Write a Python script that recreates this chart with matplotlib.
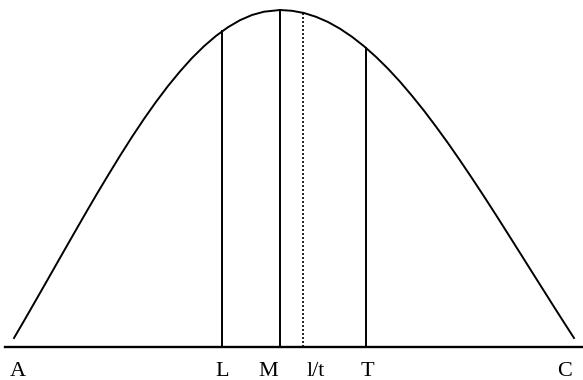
import matplotlib.pyplot as plt

# curve (x across, height above the base line)
curve_x = [14, 24, 36, 48, 60, 72, 84, 96, 108, 120, 132, 144, 156, 168, 180,
           192, 204, 216, 228, 240, 252, 264, 280, 292, 304, 316, 328, 340,
           352, 364, 376, 388, 400, 412, 424, 436, 448, 460, 472, 484, 496,
           508, 520, 532, 544, 556, 566, 574]
curve_h = [9.0, 26.1, 47.0, 68.0, 89.1, 110.1, 131.0, 151.6, 171.6, 191.2,
           210.1, 228.1, 245.1, 261.0, 275.6, 289.0, 300.8, 311.1, 319.8,
           326.8, 332.0, 335.3, 337.0, 336.2, 334.0, 330.2, 325.0, 318.3,
           310.2, 300.8, 290.1, 278.3, 265.3, 251.2, 236.3, 220.4, 203.9,
           186.6, 168.8, 150.6, 132.0, 113.1, 94.1, 75.0, 56.0, 37.0, 21.4, 9.0]

# vertical markers: position, top height, style
mark_x = [222, 280, 303, 366]
mark_top = [315.7, 337, 334.2, 299.1]
mark_style = ['-', '-', ':', '-']

labels = ['A', 'L', 'M', 'l/t', 'T', 'C']
label_x = [18, 222, 268, 316, 367, 565]

fig = plt.figure(figsize=(5.83, 3.80), dpi=100)
ax = fig.add_axes([0, 0, 1, 1])
ax.set_xlim(0, 583)
ax.set_ylim(-33, 347)
ax.axis('off')

ax.plot(curve_x, curve_h, color='black', lw=1.4, solid_joinstyle='round')
ax.plot([5, 583], [0, 0], color='black', lw=1.7)
for x, top, ls in zip(mark_x, mark_top, mark_style):
    if ls == ':':
        ax.plot([x, x], [0, top], color='black', lw=1.2, ls=(0, (1.2, 1.2)))
    else:
        ax.plot([x, x], [0, top], color='black', lw=1.4)

for lab, x in zip(labels, label_x):
    ax.text(x, -25, lab, ha='center', va='center', family='Liberation Serif',
            fontsize=16)

fig.savefig('out.png', dpi=100)
